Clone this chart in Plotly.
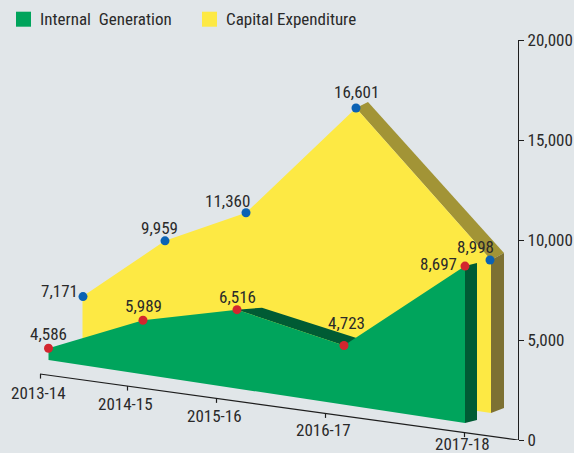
import plotly.graph_objects as go

# ---------------- data ----------------
CATEGORIES = ["2013-14", "2014-15", "2015-16", "2016-17", "2017-18"]
INTERNAL_GENERATION = [4586, 5989, 6516, 4723, 8697]
CAPITAL_EXPENDITURE = [7171, 9959, 11360, 16601, 8998]
Y_TICKS = [0, 5000, 10000, 15000, 20000]
SERIES_NAMES = ["Internal\u00a0 Generation", "Capital Expenditure"]

# ---------------- layout constants (pixels) ----------------
W, H = 574, 453
PLOT_TOP, PLOT_BOTTOM, PLOT_RIGHT = 40, 440, 518
Y_MAX = 20000
VPP = Y_MAX / (PLOT_BOTTOM - PLOT_TOP)   # value units per pixel

GREEN_X = [48.5, 143, 237, 344, 465]
YELLOW_X = [83, 165, 246, 356, 491]
TICK_X = [40.5, 127.5, 216.5, 325.5, 464.5]
CAT_LABEL_DROP = [19, 18, 18, 17, 11]
GREEN_LABEL_SHIFT = [(0, 14), (0, 14), (0, 13), (2, 23), (-27, 2)]
YELLOW_LABEL_SHIFT = [(-24, 6), (-6, 13), (-19, 12), (0, 16), (-16, 13)]

BG = "#e1e6e9"
GREEN, GREEN_DARK = "#00a45c", "#005b34"
YELLOW, OLIVE_TOP, OLIVE_SIDE = "#fde944", "#a29436", "#7d7133"
RED, BLUE = "#d3262f", "#0b62b4"
TXT = "#2a2a2a"
FONT = "Liberation Sans Narrow, Arial Narrow, Roboto Condensed, Roboto, sans-serif"


def v(ypx):
    return (PLOT_BOTTOM - ypx) * VPP


def dv(dpx):
    return dpx * VPP


def axis_y(x):
    return 374 + (x - 40) * (66 / 478)


def poly(pts, color):
    xs = [p[0] for p in pts] + [pts[0][0]]
    ys = [p[1] for p in pts] + [pts[0][1]]
    return go.Scatter(x=xs, y=ys, mode="lines", fill="toself", fillcolor=color,
                      line=dict(width=0, color=color), hoverinfo="skip", showlegend=False)


fig = go.Figure()

# ---- Capital expenditure (back ribbon) ----
c, yx = CAPITAL_EXPENDITURE, YELLOW_X
fig.add_trace(poly([(yx[3], c[3]), (yx[3] + 12, c[3] + dv(6)),
                    (yx[4] + 13, c[4] + dv(7)), (yx[4], c[4])], OLIVE_TOP))
fig.add_trace(poly([(yx[4], c[4]), (yx[4] + 13, c[4] + dv(7)),
                    (yx[4] + 13, v(408)), (yx[4], v(413))], OLIVE_SIDE))
fig.add_trace(poly([(yx[0] - 0.5, v(352))] + [(yx[0] - 0.5, c[0])] +
                   list(zip(yx[1:], c[1:])) + [(yx[4], v(413))], YELLOW))

# ---- Internal generation (front ribbon) ----
g, gx = INTERNAL_GENERATION, GREEN_X
fig.add_trace(poly([(gx[2], g[2]), (gx[2] + 25, g[2] + dv(2)),
                    (gx[3] + 14, g[3] + dv(7)), (gx[3], g[3])], GREEN_DARK))
fig.add_trace(poly([(gx[4], g[4]), (gx[4] + 12, g[4] + dv(3)),
                    (gx[4] + 12, v(420)), (gx[4], v(423))], GREEN_DARK))
fig.add_trace(poly([(gx[0], v(360))] + list(zip(gx, g)) + [(gx[4], v(423))], GREEN))

# ---- slanted category axis ----
ax_x = [40, PLOT_RIGHT]
ax_y = [v(axis_y(40)), v(axis_y(PLOT_RIGHT))]
for tx in TICK_X:
    ax_x += [None, tx, tx]
    ax_y += [None, v(axis_y(tx)), v(axis_y(tx) + 4.5)]
fig.add_trace(go.Scatter(x=ax_x, y=ax_y, mode="lines", line=dict(color="#1e1e1e", width=1.2),
                         hoverinfo="skip", showlegend=False))

# ---- dots ----
fig.add_trace(go.Scatter(x=gx, y=g, mode="markers", marker=dict(size=9, color=RED),
                         hoverinfo="skip", showlegend=False, cliponaxis=False))
fig.add_trace(go.Scatter(x=[x - 1 if i == 4 else x for i, x in enumerate(yx)], y=c, mode="markers",
                         marker=dict(size=9, color=BLUE),
                         hoverinfo="skip", showlegend=False, cliponaxis=False))

ann = []
for xs_, vals, shifts in ((gx, g, GREEN_LABEL_SHIFT), (yx, c, YELLOW_LABEL_SHIFT)):
    for x, val, (sx, sy) in zip(xs_, vals, shifts):
        ann.append(dict(x=x, y=val, xref="x", yref="y", text=f"{val:,}", showarrow=False,
                        xanchor="center", yanchor="middle", xshift=sx, yshift=sy,
                        font=dict(size=17, color=TXT, family=FONT)))

for tx, cat, drop in zip(TICK_X, CATEGORIES, CAT_LABEL_DROP):
    ann.append(dict(x=tx, y=v(axis_y(tx)), xref="x", yref="y", text=cat, showarrow=False,
                    xanchor="center", yanchor="middle", xshift=-2, yshift=-drop,
                    font=dict(size=17, color=TXT, family=FONT)))

# ---- legend (custom) ----
def px_x(x):
    return x / PLOT_RIGHT


def px_y(y):
    return (PLOT_BOTTOM - y) / (PLOT_BOTTOM - PLOT_TOP)


shapes = []
for (x0, col), name, tx0 in zip([(16, GREEN), (202, YELLOW)], SERIES_NAMES, [38, 224]):
    shapes.append(dict(type="rect", xref="paper", yref="paper", x0=px_x(x0), x1=px_x(x0 + 15),
                       y0=px_y(26.7), y1=px_y(11.7), fillcolor=col, line=dict(width=0)))
    ann.append(dict(x=px_x(tx0), y=px_y(19.5), xref="paper", yref="paper", text=name,
                    showarrow=False, xanchor="left", yanchor="middle",
                    font=dict(size=17, color=TXT, family=FONT)))

fig.update_layout(
    width=W, height=H, paper_bgcolor=BG, plot_bgcolor=BG,
    margin=dict(l=0, r=W - PLOT_RIGHT, t=PLOT_TOP, b=H - PLOT_BOTTOM),
    xaxis=dict(range=[0, PLOT_RIGHT], visible=False, fixedrange=True),
    yaxis=dict(range=[0, Y_MAX], side="right", tickvals=Y_TICKS,
               ticktext=[f"{t:,}" for t in Y_TICKS], ticks="outside", ticklen=5,
               tickcolor="#1e1e1e", showline=True, linecolor="#1e1e1e", linewidth=1.2,
               showgrid=False, zeroline=False, fixedrange=True,
               tickfont=dict(size=17, color=TXT, family=FONT)),
    annotations=ann, shapes=shapes, showlegend=False,
)

fig.write_html("out.html", config={"displayModeBar": False},
               post_script="document.body.style.margin='0px';document.body.style.overflow='hidden';")
